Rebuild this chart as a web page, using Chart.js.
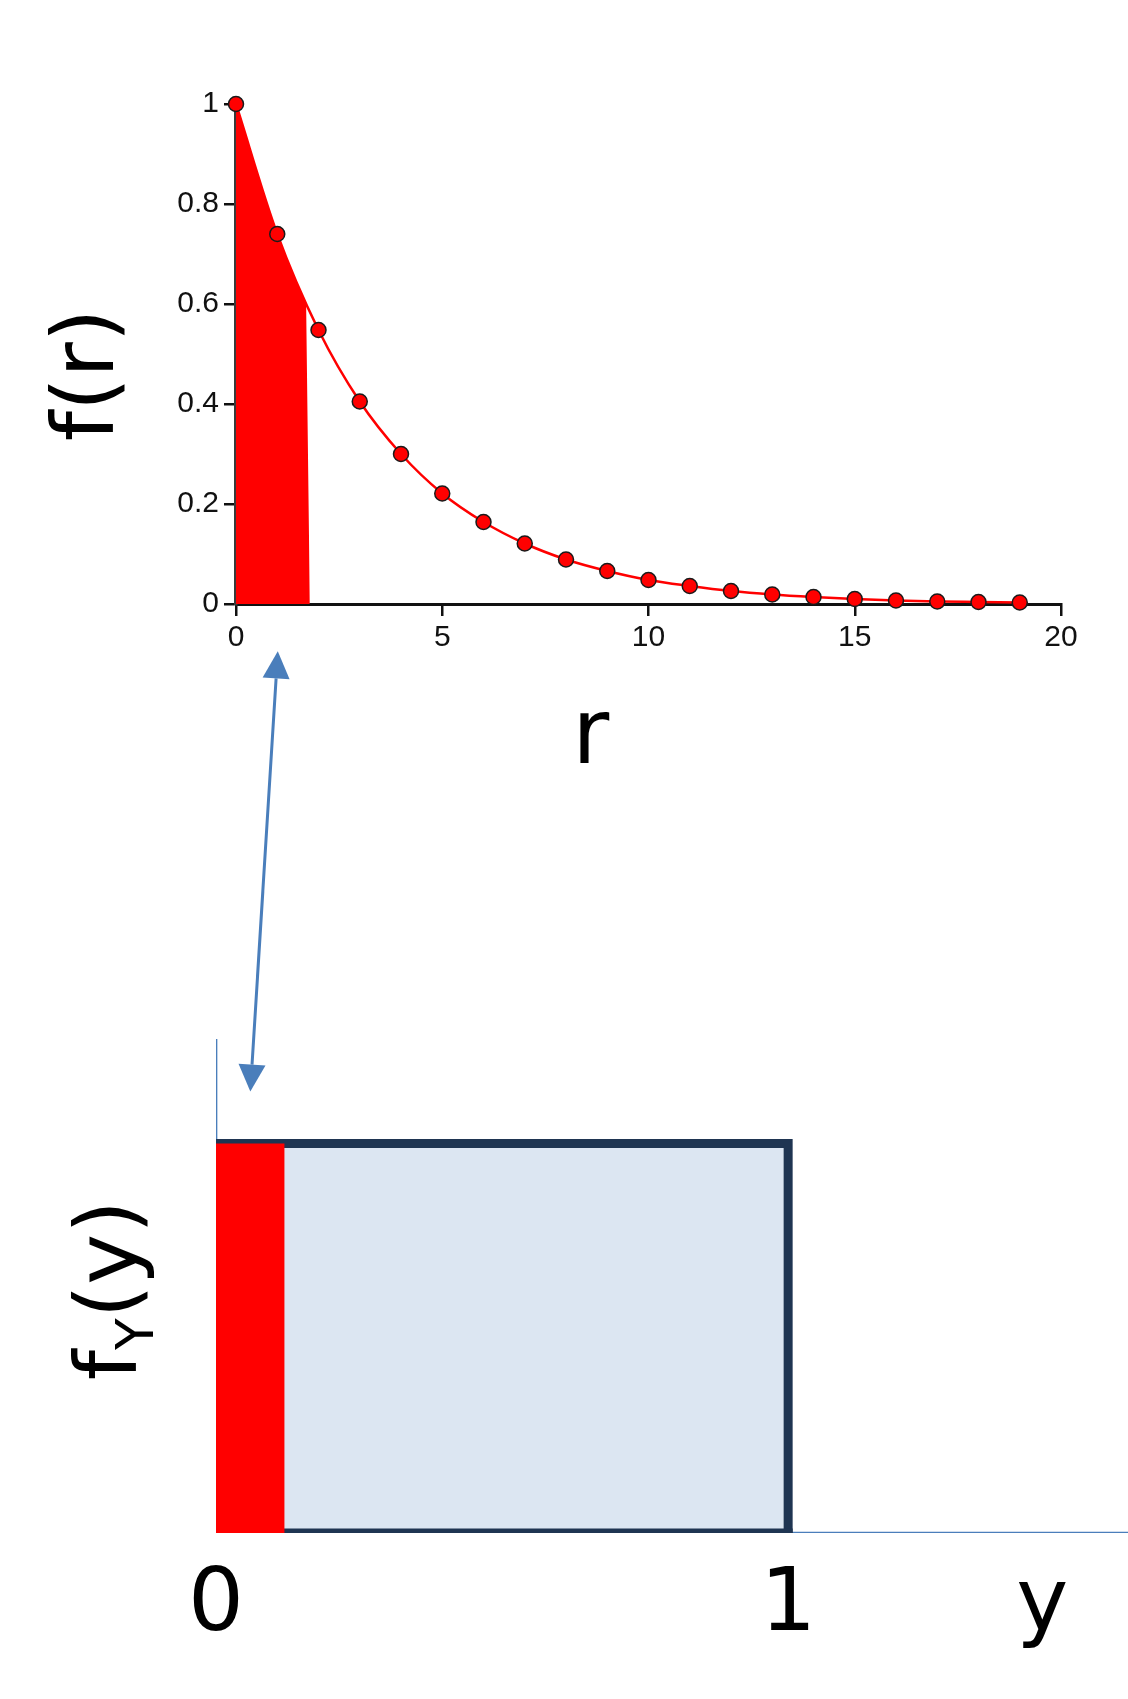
<!DOCTYPE html>
<html>
<head>
<meta charset="utf-8">
<script src="https://cdn.jsdelivr.net/npm/chart.js@4.4.1/dist/chart.umd.min.js"></script>
<style>
	html,body{margin:0;padding:0;background:#fff;}
	#wrap{position:relative;width:1128px;height:1699px;}
	#wrap canvas{position:absolute;left:0;top:0;}
</style>
</head>
<body>
<div id="wrap">
	<canvas id="lower" width="1128" height="1699"></canvas>
	<canvas id="upper" width="1128" height="1699"></canvas>
</div>
<script>
// top chart: f(r)
const rValues=[0,1,2,3,4,5,6,7,8,9,10,11,12,13,14,15,16,17,18,19];
const fValues=[1,0.74,0.548,0.405,0.30,0.221,0.164,0.121,0.089,0.066,0.048,0.036,0.026,0.019,0.014,0.010,0.007,0.005,0.004,0.003];
const shadeR=[0,1,1.7,1.79];
const shadeF=[1,0.735,0.6,0];
const rTicks=[0,5,10,15,20];
const fTicks=[0,0.2,0.4,0.6,0.8,1];

// bottom chart: f_Y(y)
const boxY=[0,0,1,1];
const boxF=[0,1,1,0];
const baseY=[0,1];
const baseF=[0,0];
const stripY=[0,0,0.12,0.12];
const stripF=[0,1,1,0];
const vAxisY=[0,0];
const vAxisF=[1,1.27];
const hAxisY=[1,1.6];
const hAxisF=[0,0];
const yTicks=[0,1,1.444];
const yTickLabels=['0','1','y'];

const RED='#ff0000';
const BLUE='#4a7ebb';
const NAVY='#1f3552';

function pts(xs,ys) {
	return xs.map((x,i)=>({x:x,y:ys[i]}));
}

// big axis names drawn by hand
const upperTitles={
	id:'upperTitles',
	afterDraw(chart) {
		let ctx=chart.ctx,
			x=chart.scales.x,
			y=chart.scales.y;
		ctx.save();
		ctx.fillStyle='#000';
		ctx.font='86px "DejaVu Sans"';
		ctx.textAlign='center';
		ctx.textBaseline='alphabetic';
		ctx.translate(x.left-123,y.getPixelForValue(0.458));
		ctx.rotate(-Math.PI/2);
		ctx.fillText('f(r)',0,0);
		ctx.restore();

		ctx.save();
		ctx.fillStyle='#000';
		ctx.font='90px "DejaVu Sans"';
		ctx.textAlign='center';
		ctx.textBaseline='alphabetic';
		ctx.fillText('r',x.getPixelForValue(8.6),y.bottom+159);
		ctx.restore();
	}
};

const lowerExtras={
	id:'lowerExtras',
	afterDraw(chart) {
		let ctx=chart.ctx,
			x=chart.scales.x,
			y=chart.scales.y;

		// f_Y(y) label, rotated
		ctx.save();
		ctx.fillStyle='#000';
		ctx.textBaseline='alphabetic';
		let big='86px "DejaVu Sans"', small='52px "DejaVu Sans"';
		ctx.font=big;
		let w1=ctx.measureText('f').width, w3=ctx.measureText('(y)').width;
		ctx.font=small;
		let w2=ctx.measureText('Y').width;
		let total=w1+w2+w3;
		ctx.translate(x.left-80,y.getPixelForValue(0.623));
		ctx.rotate(-Math.PI/2);
		let sx=-total/2;
		ctx.font=big;
		ctx.fillText('f',sx,0);
		ctx.font=small;
		ctx.fillText('Y',sx+w1,17);
		ctx.font=big;
		ctx.fillText('(y)',sx+w1+w2,0);
		ctx.restore();

		// double headed arrow between the two panels
		let x1=x.getPixelForValue(0.108), y1=y.getPixelForValue(2.263),
			x2=x.getPixelForValue(0.06), y2=y.getPixelForValue(1.133);
		let ang=Math.atan2(y2-y1,x2-x1), head=27, half=13.5;
		ctx.save();
		ctx.strokeStyle=BLUE;
		ctx.fillStyle=BLUE;
		ctx.lineWidth=3;
		ctx.beginPath();
		ctx.moveTo(x1+Math.cos(ang)*head,y1+Math.sin(ang)*head);
		ctx.lineTo(x2-Math.cos(ang)*head,y2-Math.sin(ang)*head);
		ctx.stroke();
		[[x1,y1,ang],[x2,y2,ang+Math.PI]].forEach((a)=>{
			let bx=a[0]+Math.cos(a[2])*head, by=a[1]+Math.sin(a[2])*head;
			ctx.beginPath();
			ctx.moveTo(a[0],a[1]);
			ctx.lineTo(bx+Math.sin(a[2])*half,by-Math.cos(a[2])*half);
			ctx.lineTo(bx-Math.sin(a[2])*half,by+Math.cos(a[2])*half);
			ctx.closePath();
			ctx.fill();
		});
		ctx.restore();
	}
};

Chart.defaults.font.family='"Liberation Sans", Arial, sans-serif';

new Chart(document.getElementById('upper'),{
	type:'line',
	data:{
		datasets:[{
			data:pts(rValues,fValues),
			borderColor:RED,
			borderWidth:2.5,
			cubicInterpolationMode:'monotone',
			pointRadius:7.5,
			pointBackgroundColor:RED,
			pointBorderColor:'#1a1a1a',
			pointBorderWidth:1.5,
			clip:false,
			fill:false
		},{
			data:pts(shadeR,shadeF),
			borderWidth:0,
			pointRadius:0,
			backgroundColor:RED,
			fill:'origin'
		}]
	},
	options:{
		responsive:false,
		animation:false,
		layout:{padding:{left:0,top:104,right:67,bottom:1035}},
		plugins:{legend:{display:false},tooltip:{enabled:false}},
		scales:{
			x:{
				type:'linear',min:0,max:20,
				afterBuildTicks:(s)=>{s.ticks=rTicks.map((v)=>({value:v}));},
				afterFit:(s)=>{s.height=60;},
				ticks:{color:'#111',font:{size:30},padding:4,maxRotation:0},
				grid:{drawOnChartArea:false,drawTicks:true,tickLength:12,color:'#111',lineWidth:2.5},
				border:{display:true,color:'#111',width:3}
			},
			y:{
				type:'linear',min:0,max:1,
				afterBuildTicks:(s)=>{s.ticks=fTicks.map((v)=>({value:v}));},
				afterFit:(s)=>{s.width=236;},
				ticks:{color:'#111',font:{size:30},padding:5,callback:(v)=>String(+v.toFixed(1))},
				grid:{drawOnChartArea:false,drawTicks:true,tickLength:12,color:'#111',lineWidth:2.5},
				border:{display:true,color:'#3a3a3a',width:3.5}
			}
		}
	},
	plugins:[upperTitles]
});

new Chart(document.getElementById('lower'),{
	type:'line',
	data:{
		datasets:[{
			data:pts(stripY,stripF),
			borderWidth:0,
			pointRadius:0,
			backgroundColor:RED,
			fill:'origin'
		},{
			data:pts(baseY,baseF),
			borderColor:NAVY,
			borderWidth:9,
			borderCapStyle:'square',
			pointRadius:0,
			fill:false
		},{
			data:pts(boxY,boxF),
			borderColor:NAVY,
			borderWidth:9,
			borderJoinStyle:'miter',
			borderCapStyle:'square',
			pointRadius:0,
			backgroundColor:'#dce6f2',
			fill:'origin'
		},{
			data:pts(vAxisY,vAxisF),
			borderColor:BLUE,
			borderWidth:2.7,
			pointRadius:0,
			fill:false
		},{
			data:pts(hAxisY,hAxisF),
			borderColor:BLUE,
			borderWidth:2.7,
			pointRadius:0,
			fill:false
		}]
	},
	options:{
		responsive:false,
		animation:false,
		layout:{padding:{left:216,top:1039,right:0,bottom:0}},
		plugins:{legend:{display:false},tooltip:{enabled:false}},
		scales:{
			x:{
				type:'linear',min:0,max:1.594,
				afterBuildTicks:(s)=>{s.ticks=yTicks.map((v)=>({value:v}));},
				afterFit:(s)=>{s.height=166;},
				ticks:{
					color:'#000',
					font:{family:'"DejaVu Sans"',size:88},
					padding:21,autoSkip:false,maxRotation:0,
					callback:(v,i)=>yTickLabels[i]
				},
				grid:{display:false,drawTicks:false},
				border:{display:false}
			},
			y:{type:'linear',min:0,max:1.268,display:false}
		}
	},
	plugins:[lowerExtras]
});
</script>
</body>
</html>
